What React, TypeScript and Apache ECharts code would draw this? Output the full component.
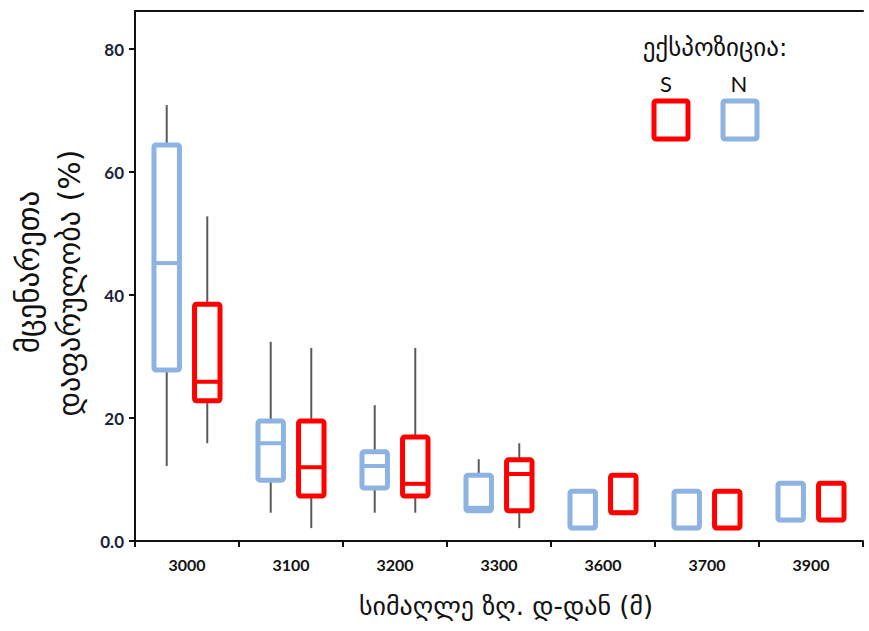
import React, { useEffect, useRef } from "react";
import * as echarts from "echarts";

// Altitude categories (m)
const categories = ["3000", "3100", "3200", "3300", "3600", "3700", "3900"];

// Box statistics per category: [whiskerLow, q1, median, q3, whiskerHigh]
const northBoxes = [
  [12.2, 27.8, 45.2, 64.4, 70.9],
  [4.6, 9.9, 15.9, 19.5, 32.4],
  [4.6, 8.6, 12.2, 14.5, 22.1],
  [4.9, 4.9, 5.4, 10.7, 13.3],
  [2.1, 2.1, 2.1, 8.1, 8.1],
  [2.1, 2.1, 2.1, 8.1, 8.1],
  [3.4, 3.4, 3.4, 9.4, 9.4],
];
const southBoxes = [
  [15.9, 22.8, 25.9, 38.5, 52.8],
  [2.1, 7.3, 12.0, 19.5, 31.4],
  [4.6, 7.3, 9.3, 16.9, 31.4],
  [2.1, 4.9, 10.9, 13.2, 15.9],
  [4.6, 4.6, 4.6, 10.7, 10.7],
  [2.1, 2.1, 2.1, 8.1, 8.1],
  [3.4, 3.4, 3.4, 9.4, 9.4],
];

const yTickValues = [0, 20, 40, 60, 80];

const BLUE = "#8DB3E2";
const RED = "#FF0000";
const GEO_FONT = "'DejaVu Sans', sans-serif";

function makeRender(color: string, offset: number) {
  return (params: any, api: any) => {
    const idx = api.value(0);
    const band = api.size([1, 0])[0];
    const cx = api.coord([idx, 0])[0] + offset * band;
    const yLow = api.coord([idx, api.value(1)])[1];
    const yQ1 = api.coord([idx, api.value(2)])[1];
    const yMed = api.coord([idx, api.value(3)])[1];
    const yQ3 = api.coord([idx, api.value(4)])[1];
    const yHigh = api.coord([idx, api.value(5)])[1];
    const w = band * 0.245;
    const whisker = { stroke: "#5a5a5a", lineWidth: 2 };
    return {
      type: "group",
      children: [
        { type: "line", shape: { x1: cx, y1: yHigh, x2: cx, y2: yQ3 }, style: whisker },
        { type: "line", shape: { x1: cx, y1: yQ1, x2: cx, y2: yLow }, style: whisker },
        {
          type: "rect",
          shape: { x: cx - w / 2, y: yQ3, width: w, height: yQ1 - yQ3, r: 2 },
          style: { fill: "#ffffff", stroke: color, lineWidth: 5 },
        },
        {
          type: "line",
          shape: { x1: cx - w / 2, y1: yMed, x2: cx + w / 2, y2: yMed },
          style: { stroke: color, lineWidth: 4 },
        },
      ],
    };
  };
}

export default function App() {
  const ref = useRef<HTMLDivElement>(null);
  useEffect(() => {
    if (!ref.current) return;
    const chart = echarts.init(ref.current, null, { renderer: "svg" });
    const nData = northBoxes.map((b, i) => [i, ...b]);
    const sData = southBoxes.map((b, i) => [i, ...b]);
    chart.setOption({
      animation: false,
      grid: { left: 135, right: 6, top: 11, bottom: 90 },
      xAxis: [
        {
          type: "category",
          data: categories,
          boundaryGap: true,
          axisLine: { lineStyle: { color: "#111", width: 2 } },
          axisTick: { show: true, alignWithLabel: false, length: 6, lineStyle: { color: "#111", width: 2 } },
          axisLabel: {
            color: "#111",
            fontFamily: "Lato, sans-serif",
            fontWeight: "bold",
            fontSize: 16,
            margin: 15,
          },
        },
        {
          type: "category",
          data: categories,
          position: "top",
          axisLine: { show: true, lineStyle: { color: "#111", width: 2 } },
          axisTick: { show: false },
          axisLabel: { show: false },
        },
      ],
      yAxis: {
        type: "value",
        min: 0,
        max: 86.2,
        interval: 20,
        splitLine: { show: false },
        axisLine: { show: true, lineStyle: { color: "#111", width: 2 } },
        axisTick: { show: true, length: 6, customValues: yTickValues, lineStyle: { color: "#111", width: 2 } },
        axisLabel: {
          customValues: yTickValues,
          color: "#1a2438",
          fontFamily: "Lato, sans-serif",
          fontWeight: "bold",
          fontSize: 17,
          margin: 11,
          formatter: (v: number) => (v === 0 ? "0.0" : String(v)),
        },
      },
      series: [
        {
          type: "custom",
          name: "N",
          renderItem: makeRender(BLUE, -0.195),
          encode: { x: 0, y: [1, 2, 3, 4, 5] },
          data: nData,
          z: 3,
        },
        {
          type: "custom",
          name: "S",
          renderItem: makeRender(RED, 0.195),
          encode: { x: 0, y: [1, 2, 3, 4, 5] },
          data: sData,
          z: 3,
        },
      ],
      graphic: [
        {
          type: "text",
          x: 28,
          y: 272,
          rotation: Math.PI / 2,
          style: {
            text: "მცენარეთა",
            fontFamily: GEO_FONT,
            fontSize: 31,
            fill: "#111",
            textAlign: "center",
            textVerticalAlign: "middle",
          },
        },
        {
          type: "text",
          x: 69,
          y: 283,
          rotation: Math.PI / 2,
          style: {
            text: "დაფარულობა (%)",
            fontFamily: GEO_FONT,
            fontSize: 30,
            fill: "#111",
            textAlign: "center",
            textVerticalAlign: "middle",
          },
        },
        {
          type: "text",
          x: 506,
          y: 606,
          style: {
            text: "სიმაღლე ზღ. დ-დან (მ)",
            fontFamily: GEO_FONT,
            fontSize: 26,
            fill: "#111",
            textAlign: "center",
            textVerticalAlign: "middle",
          },
        },
        {
          type: "text",
          x: 715,
          y: 47,
          style: {
            text: "ექსპოზიცია:",
            fontFamily: GEO_FONT,
            fontSize: 25,
            fill: "#111",
            textAlign: "center",
            textVerticalAlign: "middle",
          },
        },
        {
          type: "text",
          x: 666,
          y: 83,
          style: { text: "S", fontFamily: "Lato, sans-serif", fontSize: 22, fill: "#111", textAlign: "center", textVerticalAlign: "middle" },
        },
        {
          type: "text",
          x: 739,
          y: 83,
          style: { text: "N", fontFamily: "Lato, sans-serif", fontSize: 22, fill: "#111", textAlign: "center", textVerticalAlign: "middle" },
        },
        {
          type: "rect",
          shape: { x: 654, y: 101, width: 34, height: 38, r: 2 },
          style: { fill: "#fff", stroke: RED, lineWidth: 5 },
        },
        {
          type: "rect",
          shape: { x: 723, y: 101, width: 34, height: 38, r: 2 },
          style: { fill: "#fff", stroke: BLUE, lineWidth: 5 },
        },
      ],
    });
    return () => chart.dispose();
  }, []);
  return (
    <div
      ref={ref}
      style={{ position: "fixed", left: 0, top: 0, width: 869, height: 631, background: "#fff" }}
    />
  );
}
